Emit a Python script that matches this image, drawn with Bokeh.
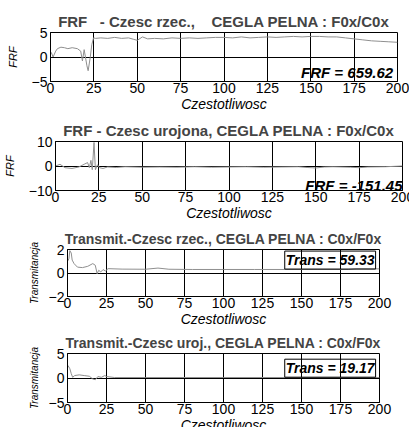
from bokeh.plotting import figure
from bokeh.models import FixedTicker, Label, Range1d
from bokeh.embed import file_html
from bokeh.resources import INLINE

# ---------------- data ----------------
x_ticks = [0, 25, 50, 75, 100, 125, 150, 175, 200]

freq_frf_re = [0, 0.5, 1.5, 3, 4, 6, 8, 10, 12.5, 15.5, 17.4, 18.4, 19.4, 21, 21.7, 22.9, 23.8, 24.8,
               26, 29, 33, 37, 41, 45, 48, 50, 53, 56, 60, 65, 70, 75, 80, 85, 90, 95, 100, 105,
               110, 115, 120, 125, 130, 135, 140, 145, 150, 155, 160, 165, 170, 175, 180, 185,
               190, 195, 200]
frf_re = [0.6, 0.9, 0.0, 1.2, 1.7, 2.0, 1.9, 1.7, 1.9, 1.7, 1.2, -0.8, 1.5, -1.8, -2.8, -0.1, 2.5, 3.9,
          3.8, 3.9, 3.8, 4.0, 3.8, 3.9, 3.6, 3.4, 4.1, 3.7, 3.8, 3.7, 3.9, 3.8, 3.9, 3.8, 3.9, 4.0, 4.0, 3.9,
          4.1, 3.9, 4.0, 4.1, 4.0, 4.1, 4.2, 4.1, 4.2, 4.2, 4.1, 4.1, 3.9, 3.7, 3.5, 3.3,
          3.2, 3.1, 3.0]

freq_frf_im = [0, 2.6, 5.5, 9.5, 13.5, 16.5, 18.5, 19.5, 20.4, 21.2, 22.2, 23, 24.2, 25.4, 27.4, 30,
               35, 40, 50, 60, 70, 80, 90, 100, 110, 120, 130, 140, 145, 150, 155, 160, 170, 175,
               180, 190, 200]
frf_im = [0, 0.7, -0.7, -1.0, -0.4, 0.7, 1.4, -0.7, 2.3, -1.5, 9.6, -1.5, 0.5, -0.7, -1.0, -0.4,
          -0.6, -0.3, -0.5, -0.4, -0.5, -0.3, -0.5, -0.4, -0.3, -0.5, -0.4, -0.3, -0.6, -0.8, -0.4,
          -0.3, -0.5, -0.7, -0.4, -0.3, 0.0]

freq_tr_re = [0, 0.9, 1.5, 2.4, 3, 4.2, 6.4, 9.6, 13, 16.2, 17.8, 19, 20, 21.3, 22.8, 24.3, 26, 35,
              50, 58, 65, 80, 100, 120, 140, 160, 180, 185, 200]
tr_re = [1.0, 1.2, 1.9, 1.7, 1.1, 0.8, 0.5, 0.46, 0.57, 0.8, 0.66, -0.06, 0.23, 0.09, 0.29, 0.17,
         0.37, 0.33, 0.32, 0.42, 0.32, 0.3, 0.3, 0.3, 0.3, 0.3, 0.3, 0.36, 0.35]

freq_tr_im = [0, 0.4, 1.5, 2.4, 3.3, 4.6, 7.5, 10.7, 14, 16.2, 17.8, 19.5, 21.7, 23.9, 25, 30, 50,
              100, 150, 200]
tr_im = [2.3, 2.5, 1.9, 0.9, 0.14, 0.5, 0.64, 0.5, 0.36, -0.2, -0.36, 0.3, 0.14, 0.5, 0.3, 0.1,
         0.1, 0.1, 0.1, 0.1]

NB = "\u00a0"
titles = ["FRF" + NB * 3 + "- Czesc rzec.," + NB * 4 + "CEGLA PELNA : F0x/C0x",
          "FRF - Czesc urojona, CEGLA PELNA : F0x/C0x",
          "Transmit.-Czesc rzec., CEGLA PELNA : C0x/F0x",
          "Transmit.-Czesc uroj., CEGLA PELNA : C0x/F0x"]
ylabels = ["FRF", "FRF", "Transmitancja", "Transmitancja"]
xlabel = "Czestotliwosc"
annotations = ["FRF = 659.62", "FRF = -151.45", "Trans = 59.33", "Trans = 19.17"]
y_limits = [(-5, 5), (-10, 10), (-2, 2), (-5, 5)]
y_ticks = [[-5, 0, 5], [-10, 0, 10], [-2, 0, 2], [-5, 0, 5]]
series_x = [freq_frf_re, freq_frf_im, freq_tr_re, freq_tr_im]
series_y = [frf_re, frf_im, tr_re, tr_im]

# ---------------- layout / style ----------------
FONT = "Liberation Sans"
frames = [  # left, frame_w, right, top, frame_h
    (50, 347, 12, 32, 49),
    (50, 347, 12, 27, 49),
    (67, 312, 30, 26, 47),
    (67, 312, 30, 23, 49),
]
title_sizes = ["15px", "15px", "14px", "14px"]
ann_pos = [(197.5, -3.1, "15px", False), (200, -7.8, "15px", False),
           (197.5, 1.1, "14px", True), (197.5, 2.0, "14px", True)]
ylabel_sizes = ["11px", "11px", "10px", "10px"]
ylabel_standoffs = [10, 10, 6, 6]

figs = []
for i in range(4):
    l, fw, r, t, fh = frames[i]
    p = figure(frame_width=fw, frame_height=fh, min_border_left=l, min_border_right=r,
               min_border_top=t, min_border_bottom=0, output_backend="svg",
               toolbar_location=None, x_range=Range1d(0, 200),
               y_range=Range1d(*y_limits[i]))
    p.title.text = titles[i]
    p.title.text_font = FONT
    p.title.text_font_size = title_sizes[i]
    p.title.text_font_style = "bold"
    p.title.align = "center"
    p.title.standoff = 6
    p.outline_line_color = "black"
    p.outline_line_alpha = 1
    p.background_fill_color = "white"
    p.border_fill_color = "white"

    p.xaxis.ticker = FixedTicker(ticks=x_ticks)
    p.yaxis.ticker = FixedTicker(ticks=y_ticks[i])
    for ax in (p.xaxis, p.yaxis):
        ax.axis_line_color = "black"
        ax.major_tick_line_color = "black"
        ax.major_tick_in = 3
        ax.major_tick_out = 0
        ax.minor_tick_line_color = None
        ax.major_label_text_font = FONT
        ax.major_label_text_font_size = "14px"
        ax.major_label_text_color = "black"
        ax.axis_label_text_font = FONT
        ax.axis_label_text_font_style = "italic"
        ax.axis_label_text_color = "black"
    p.xaxis.axis_label = xlabel
    p.xaxis.axis_label_text_font_size = "14px"
    p.xaxis.major_label_standoff = 1
    p.xaxis.axis_label_standoff = 0
    p.yaxis.axis_label = ylabels[i]
    p.yaxis.axis_label_text_font_size = ylabel_sizes[i]
    p.yaxis.major_label_standoff = 3
    p.yaxis.axis_label_standoff = ylabel_standoffs[i]

    p.xgrid.ticker = FixedTicker(ticks=x_ticks)
    p.ygrid.ticker = FixedTicker(ticks=y_ticks[i])
    for g in (p.xgrid, p.ygrid):
        g.grid_line_color = "black"
        g.grid_line_alpha = 1
        g.grid_line_width = 1

    p.line(series_x[i], series_y[i], line_color="#8f8f8f", line_width=1)

    ax_, ay_, fs, boxed = ann_pos[i]
    lab = Label(x=ax_, y=ay_, text=annotations[i], text_align="right", text_baseline="middle",
                text_font=FONT, text_font_size=fs, text_font_style="bold italic",
                text_color="black")
    if boxed:
        lab.border_line_color = "black"
        lab.border_line_width = 1
        lab.padding = 1
    p.add_layout(lab)
    figs.append(p)

open("out.html", "w").write(file_html(figs, INLINE))
